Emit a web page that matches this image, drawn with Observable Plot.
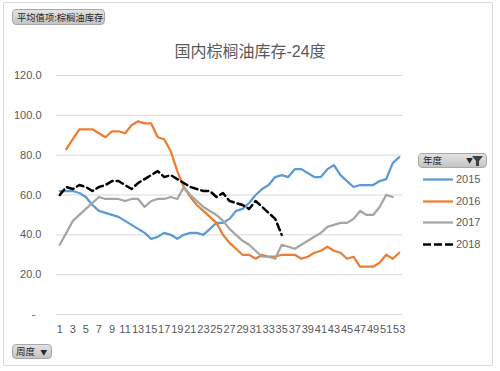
<!DOCTYPE html>
<html>
<head>
<meta charset="utf-8">
<script src="https://cdn.jsdelivr.net/npm/d3@7"></script>
<script src="https://cdn.jsdelivr.net/npm/@observablehq/plot@0.6"></script>
<style>
  html, body { margin: 0; padding: 0; background: #fff; }
  body { font-family: "Liberation Sans", Arial, "Noto Sans CJK SC", sans-serif; }
  #wrap { position: relative; width: 500px; height: 371px; overflow: hidden; background: #fff; }
  #frame { position: absolute; left: 3px; top: 2px; width: 490px; height: 364px; border: 1px solid #d9d9d9; box-sizing: border-box; }
  #chart { position: absolute; left: 0; top: 0; }
  .btn { position: absolute; box-sizing: border-box; border: 1px solid #a8a8a8; border-radius: 4px;
         background: linear-gradient(#e2e2e2, #c4c4c4); color: #262626; font-family: "Noto Sans CJK SC", sans-serif; white-space: nowrap; }
  #title { position: absolute; left: 0; width: 500px; top: 38px; text-align: center; font-family: "Liberation Sans", "Noto Sans CJK SC", sans-serif;
           font-size: 16px; color: #595959; }
  .leg { position: absolute; left: 423px; height: 14px; font-size: 11px; color: #595959; font-family: "Liberation Sans", Arial, sans-serif; }
  .leg svg { position: absolute; left: 0; top: 0; }
  .leg span { position: absolute; left: 33px; top: 0px; line-height: 14px; }
</style>
</head>
<body>
<div id="wrap">
  <div id="frame"></div>
  <div id="chart"></div>
  <div id="title">国内棕榈油库存-24度</div>
  <div class="btn" style="left:12px; top:9px; width:93px; height:16px; font-size:9.3px; line-height:14px; padding-left:4px;">平均值项:棕榈油库存</div>
  <div class="btn" style="left:12px; top:344px; width:40px; height:15px; font-size:9.5px; line-height:13px; padding-left:3px;">周度 <span style="font-size:7px; margin-left:3px;">▼</span></div>
  <div class="btn" style="left:418px; top:153px; width:69px; height:15px; font-size:9.5px; line-height:13px; padding-left:4px;">年度<span style="position:absolute; left:47px; top:0px; font-size:7px;">▼</span><svg style="position:absolute; left:53px; top:2px;" width="11" height="10"><path d="M0,0 L11,0 L7,5 L7,10 L4,10 L4,5 Z" fill="#404040"/></svg></div>
  <div id="legend"></div>
</div>
<script>
const weeks = d3.range(1, 54);
const years = ["2015", "2016", "2017", "2018"];
const s2015 = [62, 62, 62, 61, 59, 55, 52, 51, 50, 49, 47, 45, 43, 41, 38, 39, 41, 40, 38, 40,
               41, 41, 40, 43, 46, 46, 48, 52, 53, 56, 60, 63, 65, 69, 70, 69, 73, 73, 71, 69,
               69, 73, 75, 70, 67, 64, 65, 65, 65, 67, 68, 76, 79];
const s2016 = [null, 83, 88, 93, 93, 93, 91, 89, 92, 92, 91, 95, 97, 96, 96, 89, 88, 82, 72, 64,
               59, 55, 52, 49, 46, 40, 36, 33, 30, 30, 28, 30, 29, 29, 30, 30, 30, 28, 29, 31,
               32, 34, 32, 31, 28, 29, 24, 24, 24, 26, 30, 28, 31];
const s2017 = [35, 41, 47, 50, 53, 56, 59, 58, 58, 58, 57, 58, 58, 54, 57, 58, 58, 59, 58, 64,
               60, 57, 54, 52, 50, 47, 43, 40, 37, 35, 32, 29, 29, 28, 35, 34, 33, 35, 37, 39,
               41, 44, 45, 46, 46, 48, 52, 50, 50, 54, 60, 59, null];
const s2018 = [60, 64, 63, 65, 64, 62, 64, 65, 67, 67, 65, 63, 66, 68, 70, 72, 69, 70, 68, 66,
               64, 63, 62, 62, 59, 61, 57, 56, 55, 53, 57, 54, 51, 48, 40];
const seriesValues = [s2015, s2016, s2017, s2018];
const colors = ["#5B9BD5", "#ED7D31", "#A5A5A5", "#000000"];
const yTicks = [0, 20, 40, 60, 80, 100, 120];
const xTicks = d3.range(1, 54, 2);

const rows = years.flatMap((yr, i) =>
  seriesValues[i].map((v, j) => ({year: yr, week: weeks[j], value: v})).filter(d => d.value != null));

const chart = Plot.plot({
  width: 500,
  height: 371,
  marginLeft: 56,
  marginRight: 98,
  marginTop: 75,
  marginBottom: 57,
  x: {domain: [0.5, 53.5]},
  y: {domain: [0, 120]},
  color: {domain: years, range: colors},
  style: {fontFamily: "'Liberation Sans', Arial, sans-serif", fontSize: "11px", color: "#595959", background: "transparent", overflow: "visible"},
  marks: [
    Plot.ruleY(yTicks, {stroke: "#d9d9d9", strokeWidth: 1}),
    Plot.axisY({ticks: yTicks, tickSize: 0, tickPadding: 15, label: null, fill: "#595959",
                tickFormat: d => d === 0 ? "-\u00a0\u00a0" : d.toFixed(1)}),
    Plot.axisX({ticks: xTicks, tickSize: 0, tickPadding: 11, label: null, fill: "#595959",
                tickFormat: d => String(d)}),
    Plot.line(rows.filter(d => d.year !== "2018"), {x: "week", y: "value", z: "year", stroke: "year", strokeWidth: 2.25}),
    Plot.line(rows.filter(d => d.year === "2018"), {x: "week", y: "value", stroke: "year", strokeWidth: 2.5, strokeDasharray: "7,4"})
  ]
});
document.getElementById("chart").appendChild(chart);

const legend = document.getElementById("legend");
const legendTops = [172, 194, 215, 237];
years.forEach((yr, i) => {
  const div = document.createElement("div");
  div.className = "leg";
  div.style.top = legendTops[i] + "px";
  const dash = yr === "2018" ? ' stroke-dasharray="8,3"' : "";
  div.innerHTML = `<svg width="32" height="14"><line x1="0" y1="7.5" x2="30" y2="7.5" stroke="${colors[i]}" stroke-width="${yr === "2018" ? 2.5 : 2.25}"${dash}/></svg><span>${yr}</span>`;
  legend.appendChild(div);
});
</script>
</body>
</html>
